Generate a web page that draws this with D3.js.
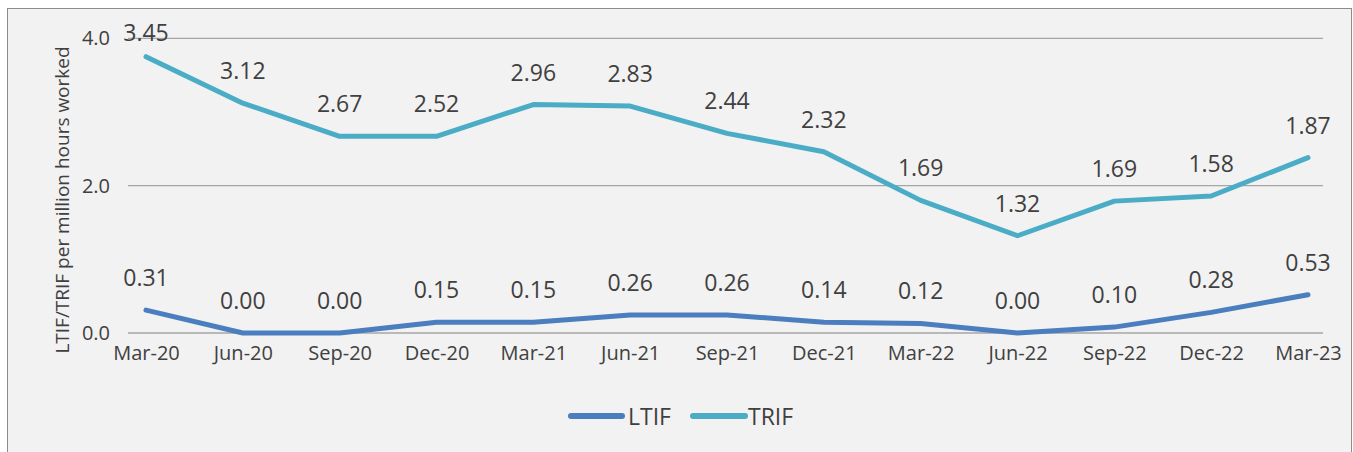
<!DOCTYPE html>
<html>
<head>
<meta charset="utf-8">
<script src="https://cdn.jsdelivr.net/npm/d3@7"></script>
<style>
  html, body { margin: 0; padding: 0; background: #ffffff; }
  svg { display: block; }
  text { font-family: "Open Sans", "Liberation Sans", sans-serif; fill: #404040; }
</style>
</head>
<body>
<svg id="chart" width="1353" height="452"></svg>
<script>
// ---- data ----
const categories = ["Mar-20","Jun-20","Sep-20","Dec-20","Mar-21","Jun-21","Sep-21","Dec-21","Mar-22","Jun-22","Sep-22","Dec-22","Mar-23"];
// plotted values (as drawn in the reference)
const ltifValues = [0.31, 0.00, 0.00, 0.145, 0.145, 0.245, 0.245, 0.145, 0.13, 0.00, 0.08, 0.28, 0.52];
const trifValues = [3.75, 3.12, 2.67, 2.67, 3.10, 3.08, 2.71, 2.46, 1.80, 1.32, 1.79, 1.86, 2.38];
// data label texts (as printed in the reference)
const ltifLabels = ["0.31","0.00","0.00","0.15","0.15","0.26","0.26","0.14","0.12","0.00","0.10","0.28","0.53"];
const trifLabels = ["3.45","3.12","2.67","2.52","2.96","2.83","2.44","2.32","1.69","1.32","1.69","1.58","1.87"];
const yTicks = [0, 2, 4];
const seriesNames = ["LTIF", "TRIF"];
const seriesColors = ["#4a7ebf", "#4bacc6"];
const yTitle = "LTIF/TRIF per million hours worked";

// ---- layout ----
const svg = d3.select("#chart");
const plotLeft = 128, plotRight = 1323;

// chart area background + border
svg.append("rect")
  .attr("x", 7.5).attr("y", 8.5)
  .attr("width", 1344).attr("height", 460)
  .attr("fill", "#f2f2f2")
  .attr("stroke", "#8c8c8c").attr("stroke-width", 1);

const x = d3.scalePoint().domain(categories).range([146, 1308]);
const y = d3.scaleLinear().domain([0, 4]).range([333, 38.3]);

// gridlines
svg.append("g").selectAll("line").data(yTicks).join("line")
  .attr("x1", plotLeft).attr("x2", plotRight)
  .attr("y1", d => y(d)).attr("y2", d => y(d))
  .attr("stroke", "#a6a6a6").attr("stroke-width", 1.3);

// y axis labels
const yAxis = d3.axisLeft(y).tickValues(yTicks).tickFormat(d3.format(".1f")).tickSize(0).tickPadding(0);
const yg = svg.append("g").attr("transform", "translate(110,0)").call(yAxis);
yg.select(".domain").remove();
yg.selectAll("text").attr("font-size", 20).attr("fill", "#404040")
  .style("font-family", "'Open Sans', 'Liberation Sans', sans-serif");

// x axis labels
const xAxis = d3.axisBottom(x).tickSize(0).tickPadding(0);
const xg = svg.append("g").attr("transform", "translate(0,346)").call(xAxis);
xg.select(".domain").remove();
xg.selectAll("text").attr("font-size", 20).attr("fill", "#404040")
  .style("font-family", "'Open Sans', 'Liberation Sans', sans-serif");

// y title
svg.append("text")
  .attr("transform", "translate(62,200) rotate(-90)")
  .attr("text-anchor", "middle")
  .attr("dominant-baseline", "central")
  .attr("font-size", 19)
  .text(yTitle);

// lines
const series = [
  { name: seriesNames[0], values: ltifValues, labels: ltifLabels, color: seriesColors[0] },
  { name: seriesNames[1], values: trifValues, labels: trifLabels, color: seriesColors[1] }
];
const line = d3.line().x((d, i) => x(categories[i])).y(d => y(d));

series.forEach(s => {
  svg.append("path")
    .datum(s.values)
    .attr("d", line)
    .attr("fill", "none")
    .attr("stroke", s.color)
    .attr("stroke-width", 5)
    .attr("stroke-linejoin", "round")
    .attr("stroke-linecap", "round");
});

// data labels
series.forEach(s => {
  svg.append("g").selectAll("text").data(s.values).join("text")
    .attr("x", (d, i) => x(categories[i]))
    .attr("y", d => Math.max(y(d) - 33, 32))
    .attr("text-anchor", "middle")
    .attr("dominant-baseline", "central")
    .attr("font-size", 23)
    .text((d, i) => s.labels[i]);
});

// legend
const legend = svg.append("g");
const legendItems = [
  { name: seriesNames[0], color: seriesColors[0], x1: 571, x2: 622, tx: 628 },
  { name: seriesNames[1], color: seriesColors[1], x1: 693, x2: 745, tx: 748 }
];
legendItems.forEach(it => {
  legend.append("line")
    .attr("x1", it.x1).attr("x2", it.x2).attr("y1", 416).attr("y2", 416)
    .attr("stroke", it.color).attr("stroke-width", 6).attr("stroke-linecap", "round");
  legend.append("text")
    .attr("x", it.tx).attr("y", 416)
    .attr("dominant-baseline", "central")
    .attr("font-size", 23)
    .text(it.name);
});
</script>
</body>
</html>
